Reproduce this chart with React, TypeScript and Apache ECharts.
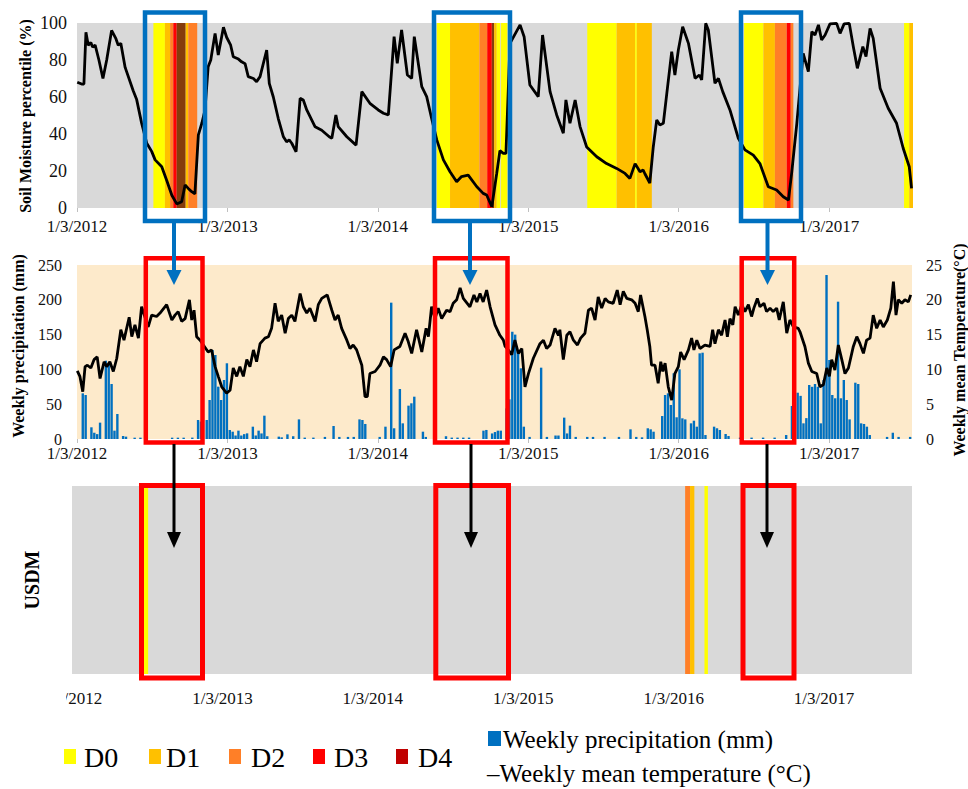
import React, { useEffect, useRef } from 'react';
import * as echarts from 'echarts';

// ---------- tick labels & categories ----------
const yearLabels = ['1/3/2012', '1/3/2013', '1/3/2014', '1/3/2015', '1/3/2016', '1/3/2017'];
const WEEKS_PER_YEAR = 52.179;
const yearTickWeeks = yearLabels.map((_, i) => i * WEEKS_PER_YEAR);

const droughtCategories = ['D0', 'D1', 'D2', 'D3', 'D4'];
const droughtColors = ['#FFFF00', '#FFC000', '#FF7F27', '#FF0000', '#C00000'];
const soilBandColors = ['#FFFF00', '#FFC000', '#FF7F27', '#FF0000', '#843C0C'];

// ---------- data (x = week since 1/3/2012) ----------
// Soil moisture percentile (%)
const soilMoisture: number[][] = [
  [0.1, 68], [1.6, 67], [2.4, 67], [3.1, 95], [3.9, 88], [4.8, 89.5], [5.4, 87], [6.3, 88], [7.6, 80],
  [9.0, 70], [10.3, 80], [12.0, 96], [13.5, 91.5], [14.3, 88], [15.2, 89], [16.7, 76], [19.5, 63.4],
  [20.7, 58.6], [22.4, 46], [24.2, 35], [25.9, 30.6], [27.1, 26], [29.4, 22.3], [31.1, 15], [32.9, 6.9],
  [34.6, 2.2], [36.3, 3.4], [37.5, 12.4], [38.6, 10.6], [39.8, 8.8], [40.9, 7.6], [42.1, 39.5], [43.3, 45.8],
  [44.4, 53], [45.5, 76.4], [46.4, 80], [47.9, 94.4], [49.0, 82.7], [50.8, 97.7], [51.9, 92.3], [53.3, 88],
  [54.2, 81.8], [56.0, 80.5], [57.1, 79], [58.3, 78], [59.4, 71], [61.2, 70], [62.3, 68.3], [63.5, 71],
  [65.8, 85.4], [66.7, 67.4], [68.1, 60], [69.8, 48.5], [71.6, 38.5], [72.7, 35.8], [73.6, 36.8], [74.5, 35],
  [76.0, 30.4], [77.4, 59.3], [78.5, 58.4], [79.7, 53], [82.6, 43.9], [84.9, 42], [87.5, 38.5], [88.4, 37.7],
  [89.8, 50.3], [90.6, 44], [93.6, 38.5], [96.8, 34], [98.8, 62.9], [101.6, 56.6], [104.5, 53], [106.3, 51.2],
  [108.0, 50.3], [110.0, 92.6], [111.1, 78.2], [112.6, 96.2], [114.6, 71.9], [116.1, 70.1], [117.0, 92.6],
  [119.6, 65.6], [121.3, 60.2], [123.0, 48.5], [124.8, 36.8], [127.1, 26], [129.4, 19.6], [131.7, 14.2],
  [133.4, 17], [135.7, 17.8], [138.7, 11.5], [140.9, 7.9], [142.1, 7], [143.9, 0.7], [145.6, 18.7],
  [146.7, 31], [147.9, 29.5], [148.8, 29.5], [150.2, 89], [153.7, 99], [155.1, 92.6], [157.1, 66.5],
  [160.0, 60.2], [161.5, 93.5], [164.1, 62.9], [166.4, 50.3], [168.7, 40.4], [169.6, 58.4], [171.0, 45.8],
  [172.8, 58.4], [174.5, 44], [176.8, 33], [180.3, 27.7], [183.7, 24], [187.2, 21.4], [190.1, 18.7],
  [191.8, 16], [193.6, 24], [195.3, 19.6], [196.4, 20.5], [197.0, 18.5], [198.7, 13.5], [199.9, 33],
  [201.1, 47.6], [202.2, 44.9], [203.4, 45.8], [204.6, 62], [206.3, 84.5], [207.4, 71.9], [208.6, 85.4],
  [210.1, 98], [212.1, 89], [214.4, 70.1], [215.9, 71.9], [216.7, 69.2], [218.1, 99.8], [219.0, 96.2],
  [221.3, 67.4], [222.5, 70.1], [224.0, 62.9], [226.5, 53], [229.4, 37.7], [231.7, 31.4], [234.6, 28.6],
  [236.9, 24], [239.8, 11.5], [242.7, 9.7], [245.0, 6.1], [246.8, 4.3], [247.9, 18.7], [249.7, 45.8],
  [251.9, 83.6], [253.7, 73.7], [254.9, 95.3], [256.0, 93.5], [257.2, 99], [258.3, 90.8], [259.5, 93.5],
  [261.2, 99.5], [263.5, 99.8], [264.7, 94.4], [266.1, 99.5], [267.9, 99.8], [269.3, 87.2], [270.7, 75.5],
  [272.6, 87.2], [273.7, 81.8], [275.1, 97.1], [276.2, 91.7], [278.6, 64.7], [281.4, 53.9], [284.3, 45.8],
  [286.6, 32.3], [288.7, 22.3], [289.5, 10.6],
];

// Soil-moisture drought bands: [startWeek, endWeek, category index]
const soilDroughtBands: number[][] = [
  [26.5, 30.5, 0], [30.5, 32.3, 1], [32.3, 33.4, 2], [33.4, 34.6, 3], [34.6, 37.7, 4], [37.7, 38.6, 1], [38.6, 41.7, 2],
  [124.8, 129.4, 0], [129.4, 139.6, 1], [139.6, 142.3, 2], [142.3, 143.9, 3], [143.9, 144.7, 4], [144.7, 145.6, 1],
  [145.6, 146.8, 0], [147.1, 149.3, 0],
  [177.0, 187.2, 0], [187.2, 193.6, 1], [193.6, 194.2, 0], [194.2, 199.4, 1],
  [231.4, 238.1, 0], [238.1, 242.1, 1], [242.1, 246.2, 2], [246.2, 247.6, 3], [247.6, 248.5, 2],
  [286.9, 288.7, 0], [288.7, 290, 1],
];

// Weekly precipitation (mm)
const precipitation: number[][] = [
  [2, 65.6], [3, 63.2], [5, 16.8], [6, 9], [7, 7], [8, 23.5], [10, 112.5], [11, 107.8], [12, 79], [13, 12],
  [14, 35.9], [16, 4.3], [17, 3.4], [20, 1.9], [22, 1.9], [33, 1.9], [35, 1.9], [37, 1.9], [40, 2], [42, 27.3],
  [43, 25], [45, 27.3], [46, 56], [47, 127.9], [48, 120.7], [49, 75.2], [50, 56], [51, 84.8], [52, 108.8],
  [53, 12.9], [54, 10.5], [55, 5], [56, 12], [57, 5], [58, 7], [59, 8.1], [61, 17.7], [62, 5], [63, 12],
  [64, 8], [65, 33.5], [66, 4], [70, 3.4], [71, 2.4], [73, 6.7], [75, 4], [77, 28.2], [79, 2], [82, 2],
  [86, 3], [89, 18.7], [91, 3], [94, 3], [96, 3], [98, 28.2], [99, 27.3], [100, 21.6], [105, 3], [107, 17.7],
  [109, 195.9], [110, 15.4], [112, 71.8], [113, 22.5], [115, 47.9], [116, 51.3], [117, 60.8], [120, 10.5],
  [121, 3], [128, 4], [130, 2], [132, 2], [134, 2], [136, 2], [141, 12], [142, 13], [144, 8], [145, 10],
  [146, 12], [147, 12], [149, 44], [150, 57], [151, 154], [152, 150], [153, 125.4], [154, 101.6], [155, 17.7],
  [157, 3], [161, 102.5], [163, 3], [166, 5], [167, 5], [169, 30.7], [170, 8], [171, 19.2], [173, 3], [177, 3],
  [179, 3], [183, 3], [188, 3], [192, 13.9], [194, 3], [196, 2.4], [198, 15.4], [199, 13.9], [200, 10.5],
  [203, 33], [204, 63.2], [205, 65.6], [206, 48.9], [207, 94.4], [208, 31.2], [209, 100.1], [210, 29.7],
  [211, 28.2], [213, 22.5], [214, 26.3], [215, 17.7], [216, 123.1], [217, 124], [218, 5.7], [221, 17.7],
  [222, 15.4], [223, 12.9], [225, 7.2], [226, 4.3], [230, 2], [234, 2], [238, 2], [242, 2], [246, 5.7],
  [248, 47.4], [250, 66.5], [251, 62], [252, 22.5], [253, 30], [254, 77.6], [255, 75], [256, 79], [257, 75],
  [258, 22.5], [259, 84.8], [260, 235.6], [261, 113.5], [262, 63.2], [263, 58.5], [264, 197.3], [265, 58.5],
  [266, 84.8], [267, 56], [268, 28.2], [270, 80.9], [271, 79], [272, 22.5], [273, 21.6], [274, 17.7],
  [275, 5.7], [281, 3], [283, 9], [285, 3], [289, 3],
];

// Weekly mean temperature (°C)
const temperature: number[][] = [
  [0.1, 9.8], [1.0, 9.0], [2.0, 6.8], [2.8, 10.4], [3.6, 10.6], [4.8, 10.2], [5.9, 11.4], [7.0, 11.8], [8.0, 8.7],
  [9.4, 11.1], [10.3, 10.4], [11.4, 11.1], [12.6, 9.7], [13.8, 11.6], [15.2, 15.7], [16.3, 14.2], [18.1, 17.5],
  [19.0, 14.7], [20.1, 16.4], [21.3, 14.5], [22.4, 19.0], [24.7, 16.1], [25.9, 17.8], [27.6, 17.6], [28.8, 18.1],
  [31.1, 19.3], [32.9, 17.1], [34.0, 17.8], [35.1, 18.3], [36.3, 16.9], [37.5, 17.3], [39.0, 20.0], [39.8, 17.1],
  [40.6, 18.5], [41.5, 14.7], [42.7, 14.2], [45.5, 12.5], [46.7, 12.8], [47.9, 10.4], [49.0, 9.0], [50.2, 7.5],
  [51.9, 6.6], [53.1, 7.0], [54.2, 10.2], [55.4, 9.0], [56.5, 10.4], [57.7, 9.0], [58.9, 11.4], [60.0, 10.4],
  [61.2, 12.8], [62.3, 11.1], [63.5, 13.7], [65.2, 14.5], [66.4, 14.7], [67.5, 15.9], [68.7, 19.5], [69.8, 16.9],
  [71.0, 17.8], [72.2, 15.2], [73.3, 17.3], [74.5, 17.8], [75.6, 16.9], [77.4, 20.9], [78.5, 19.0], [79.7, 18.1],
  [80.8, 18.8], [82.6, 16.9], [83.7, 19.3], [84.9, 20.2], [86.8, 20.7], [88.4, 18.5], [89.5, 17.1], [90.6, 17.8],
  [91.8, 15.9], [93.6, 14.2], [94.7, 13.0], [95.8, 13.5], [97.0, 12.8], [98.8, 10.6], [99.9, 6.1], [100.7, 6.1],
  [101.6, 9.4], [103.4, 9.7], [105.1, 10.6], [106.3, 11.8], [107.4, 11.4], [108.8, 10.4], [110.0, 12.8],
  [112.0, 13.3], [113.8, 15.2], [114.9, 14.0], [116.1, 12.3], [117.8, 15.7], [119.6, 12.5], [121.1, 15.9],
  [121.9, 14.7], [123.0, 19.0], [124.2, 17.3], [125.3, 18.8], [126.5, 17.3], [128.2, 18.5], [129.4, 18.3],
  [130.5, 19.5], [131.7, 20.0], [132.9, 21.7], [134.0, 20.2], [136.3, 19.0], [137.7, 20.7], [138.7, 19.7],
  [139.8, 20.9], [140.9, 19.7], [142.1, 21.4], [143.3, 19.0], [145.0, 16.4], [146.7, 14.9], [147.9, 14.2],
  [148.5, 13.3], [149.6, 12.8], [150.8, 12.1], [151.9, 14.2], [153.1, 12.3], [154.3, 13.0], [155.4, 7.5],
  [156.6, 9.4], [158.3, 11.6], [160.6, 13.7], [161.8, 14.2], [162.9, 13.0], [164.1, 13.5], [165.8, 15.9],
  [167.0, 14.9], [167.5, 15.7], [168.7, 11.4], [169.9, 14.9], [171.0, 15.4], [172.2, 14.2], [173.6, 13.5],
  [174.7, 14.5], [176.2, 15.2], [177.4, 18.5], [178.5, 18.8], [179.7, 17.1], [180.8, 20.4], [182.0, 18.8],
  [183.2, 20.2], [184.3, 19.7], [186.0, 19.5], [187.4, 21.4], [188.4, 19.3], [189.5, 21.2], [190.7, 20.2],
  [192.4, 20.0], [193.6, 19.5], [194.7, 18.3], [195.5, 20.7], [197.0, 17.6], [197.8, 15.7], [198.7, 13.3],
  [199.3, 10.6], [200.5, 10.6], [201.6, 8.0], [202.5, 11.1], [203.2, 9.7], [204.0, 10.9], [205.1, 7.5],
  [206.3, 5.6], [207.4, 9.4], [208.6, 10.4], [209.4, 12.5], [210.6, 11.4], [212.1, 12.8], [213.2, 14.5],
  [214.0, 12.8], [215.0, 14.2], [216.1, 13.0], [217.8, 13.5], [219.6, 13.3], [220.5, 15.7], [221.3, 13.7],
  [222.5, 15.7], [223.6, 14.9], [224.8, 17.1], [225.6, 14.7], [226.5, 17.3], [227.5, 16.4], [228.3, 19.0],
  [229.4, 17.8], [230.6, 19.3], [231.7, 18.3], [232.9, 19.3], [234.0, 17.6], [234.8, 18.8], [236.0, 20.2],
  [236.9, 19.0], [238.3, 19.5], [239.2, 18.3], [240.4, 18.8], [241.5, 18.3], [242.7, 18.8], [243.6, 17.1],
  [245.0, 19.7], [246.2, 15.2], [247.3, 17.1], [248.5, 16.1], [250.2, 15.9], [250.8, 15.4], [252.5, 13.3],
  [253.7, 10.9], [254.9, 9.7], [256.6, 9.4], [257.7, 7.5], [258.9, 7.8], [260.1, 10.2], [261.0, 9.0],
  [261.8, 11.4], [262.9, 9.9], [264.1, 13.5], [265.3, 11.4], [266.4, 9.4], [267.6, 10.2], [269.3, 13.3],
  [270.5, 14.7], [271.6, 13.7], [272.8, 12.3], [273.9, 14.2], [275.1, 14.5], [276.2, 17.8], [277.4, 15.9],
  [278.6, 17.1], [279.7, 16.1], [281.1, 17.1], [282.3, 18.8], [283.2, 22.6], [284.1, 17.8], [284.9, 20.0],
  [286.1, 19.5], [287.2, 20.0], [288.4, 19.7], [289.2, 20.7],
];

// USDM drought bands: [startWeek, endWeek, category index]
const usdmBands: number[][] = [
  [24.7, 26.4, 0], [212.7, 214.4, 2], [214.4, 215.9, 1], [219.4, 220.6, 0],
];

const FONT = 'Liberation Serif, Times New Roman, serif';

function yearLabel(v: number) {
  const i = Math.round(v / WEEKS_PER_YEAR);
  return Math.abs(v - i * WEEKS_PER_YEAR) < 0.5 ? yearLabels[i] ?? '' : '';
}

function xAxis(gridIndex: number, max: number, margin: number, showTick: boolean) {
  return {
    type: 'value', gridIndex, min: 0, max, interval: WEEKS_PER_YEAR,
    axisLine: { show: false },
    splitLine: { show: false },
    axisTick: { show: showTick, length: 4, lineStyle: { color: '#c0c0c0' }, customValues: yearTickWeeks },
    axisLabel: {
      margin, fontFamily: FONT, fontSize: 17, color: '#111',
      customValues: yearTickWeeks, showMaxLabel: true, showMinLabel: true, formatter: yearLabel,
    },
  };
}

function bandRender(colors: string[]) {
  return (params: any, api: any) => {
    const x0 = api.coord([api.value(0), 0])[0];
    const x1 = api.coord([api.value(1), 0])[0];
    const cs = params.coordSys;
    return {
      type: 'rect',
      shape: { x: x0, y: cs.y, width: Math.max(x1 - x0, 0.8), height: cs.height },
      style: { fill: colors[api.value(2)] },
    };
  };
}

function yAxis(gridIndex: number, max: number, interval: number, fontSize: number, margin: number, position = 'left') {
  return {
    type: 'value', gridIndex, min: 0, max, interval, position,
    axisLine: { show: false }, axisTick: { show: false }, splitLine: { show: false },
    axisLabel: { fontFamily: FONT, fontSize, color: '#111', margin },
  };
}

const BLUE = '#0070C0';
const RED = '#FF0000';

function buildGraphics() {
  const g: any[] = [];
  const z = 100;
  // axis titles
  g.push({ type: 'text', x: 25, y: 116, rotation: Math.PI / 2, z, style: { text: 'Soil Moisture percentile (%)', font: `bold 16px ${FONT}`, fill: '#000', align: 'center', verticalAlign: 'middle' } });
  g.push({ type: 'text', x: 18, y: 346, rotation: Math.PI / 2, z, style: { text: 'Weekly precipitation (mm)', font: `bold 16px ${FONT}`, fill: '#000', align: 'center', verticalAlign: 'middle' } });
  g.push({ type: 'text', x: 959, y: 350, rotation: Math.PI / 2, z, style: { text: 'Weekly mean Temperature(°C)', font: `bold 16px ${FONT}`, fill: '#000', align: 'center', verticalAlign: 'middle' } });
  g.push({ type: 'text', x: 32, y: 580, rotation: Math.PI / 2, z, style: { text: 'USDM', font: `bold 20px ${FONT}`, fill: '#000', align: 'center', verticalAlign: 'middle' } });

  // blue boxes (top)
  const blueBoxes = [[145, 205], [434, 510], [741, 801]];
  blueBoxes.forEach(([l, r]) => g.push({ type: 'rect', z, shape: { x: l, y: 12.5, width: r - l, height: 208.5 }, style: { fill: 'none', stroke: BLUE, lineWidth: 4.5 } }));
  // red boxes (middle)
  const redMid = [[145.8, 202.5], [435, 507.5], [741.7, 794.2]];
  redMid.forEach(([l, r]) => g.push({ type: 'rect', z, shape: { x: l, y: 258.3, width: r - l, height: 184.2 }, style: { fill: 'none', stroke: RED, lineWidth: 4.5 } }));
  // red boxes (bottom)
  const redBot = [[141.5, 202.5], [435.8, 508.5], [743, 794]];
  redBot.forEach(([l, r]) => g.push({ type: 'rect', z, shape: { x: l, y: 485.5, width: r - l, height: 192.5 }, style: { fill: 'none', stroke: RED, lineWidth: 5 } }));
  // blue arrows
  [174, 470, 767.5].forEach((x) => {
    g.push({ type: 'line', z: z + 1, shape: { x1: x, y1: 223, x2: x, y2: 272 }, style: { stroke: BLUE, lineWidth: 4 } });
    g.push({ type: 'polygon', z: z + 1, shape: { points: [[x - 7.5, 270], [x + 7.5, 270], [x, 285]] }, style: { fill: BLUE } });
  });
  // black arrows
  [174, 471, 767].forEach((x) => {
    g.push({ type: 'line', z: z + 1, shape: { x1: x, y1: 444, x2: x, y2: 534 }, style: { stroke: '#000', lineWidth: 3 } });
    g.push({ type: 'polygon', z: z + 1, shape: { points: [[x - 7, 532], [x + 7, 532], [x, 548]] }, style: { fill: '#000' } });
  });
  // clip of the first bottom tick label (as in the source picture)
  g.push({ type: 'rect', z: z + 2, shape: { x: 0, y: 686, width: 66, height: 28 }, style: { fill: '#fff' } });

  // legend: drought categories
  const legendX = [[64, 84], [149, 166], [229, 251], [313, 334], [396, 418]];
  droughtCategories.forEach((name, i) => {
    const [rx, tx] = legendX[i];
    g.push({ type: 'rect', z, shape: { x: rx, y: 749, width: 12, height: 15 }, style: { fill: droughtColors[i] } });
    g.push({ type: 'text', z, x: tx, y: 757, style: { text: name, font: `28px ${FONT}`, fill: '#000', align: 'left', verticalAlign: 'middle' } });
  });
  // legend: precipitation & temperature
  g.push({ type: 'rect', z, shape: { x: 488, y: 731, width: 13, height: 15 }, style: { fill: BLUE } });
  g.push({ type: 'text', z, x: 503, y: 739, style: { text: 'Weekly precipitation (mm)', font: `25px ${FONT}`, fill: '#000', align: 'left', verticalAlign: 'middle' } });
  g.push({ type: 'text', z, x: 487, y: 773, style: { text: '–Weekly mean temperature (°C)', font: `25px ${FONT}`, fill: '#000', align: 'left', verticalAlign: 'middle' } });
  return g;
}

export default function App() {
  const ref = useRef<HTMLDivElement>(null);
  useEffect(() => {
    if (!ref.current) return;
    const chart = echarts.init(ref.current, undefined, { renderer: 'svg' });
    const option: any = {
      animation: false,
      backgroundColor: '#ffffff',
      textStyle: { fontFamily: FONT },
      grid: [
        { left: 77, top: 23, width: 836, height: 185, show: true, backgroundColor: '#D9D9D9', borderWidth: 0 },
        { left: 77, top: 265, width: 835, height: 174, show: true, backgroundColor: '#FDEACB', borderWidth: 0 },
        { left: 72, top: 486, width: 840, height: 188, show: true, backgroundColor: '#D9D9D9', borderWidth: 0 },
      ],
      xAxis: [
        xAxis(0, 290.0, 10, true),
        xAxis(1, 289.65, 6, true),
        xAxis(2, 291.4, 16, false),
      ],
      yAxis: [
        yAxis(0, 100, 20, 18, 10),
        yAxis(1, 250, 50, 16, 15, 'left'),
        yAxis(1, 25, 5, 16, 14, 'right'),
        { type: 'value', gridIndex: 2, min: 0, max: 1, show: false },
      ],
      series: [
        { type: 'custom', name: 'Soil drought', xAxisIndex: 0, yAxisIndex: 0, data: soilDroughtBands, renderItem: bandRender(soilBandColors), z: 1, silent: true },
        { type: 'line', name: 'Soil Moisture percentile', xAxisIndex: 0, yAxisIndex: 0, data: soilMoisture, showSymbol: false, lineStyle: { color: '#000', width: 2.8 }, z: 3, silent: true },
        { type: 'bar', name: 'Weekly precipitation (mm)', xAxisIndex: 1, yAxisIndex: 1, data: precipitation, barWidth: 2.4, itemStyle: { color: BLUE }, z: 2, silent: true },
        { type: 'line', name: 'Weekly mean temperature (°C)', xAxisIndex: 1, yAxisIndex: 2, data: temperature, showSymbol: false, lineStyle: { color: '#000', width: 2.8 }, z: 3, silent: true },
        { type: 'custom', name: 'USDM', xAxisIndex: 2, yAxisIndex: 3, data: usdmBands, renderItem: bandRender(droughtColors), z: 1, silent: true },
      ],
      graphic: buildGraphics(),
    };
    chart.setOption(option);
    return () => chart.dispose();
  }, []);
  return <div ref={ref} style={{ position: 'absolute', left: 0, top: 0, width: 968, height: 789, background: '#fff' }} />;
}
